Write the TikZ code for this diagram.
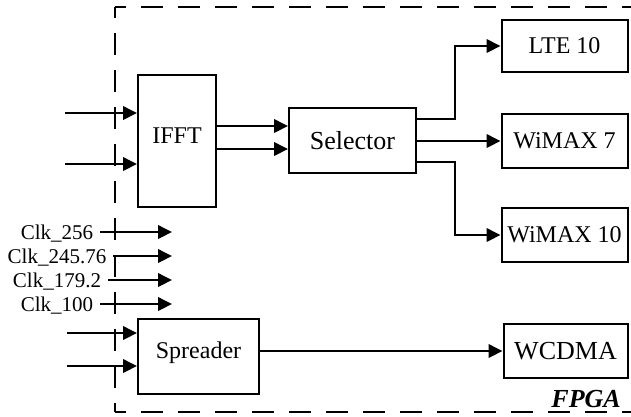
\documentclass[tikz,border=0pt]{standalone}
\usepackage{fontspec}
\setmainfont{Liberation Serif}
\usetikzlibrary{arrows.meta}

\begin{document}
\begin{tikzpicture}[x=1pt,y=-1pt,
  blk/.style={draw,line width=2pt,inner sep=0pt,font=\fontsize{24}{28}\selectfont},
  big/.style={font=\fontsize{26}{30}\selectfont},
  sig/.style={line width=2pt,-{Triangle[length=14pt,width=13.5pt]}},
  clk/.style={inner xsep=7pt,inner ysep=0pt,text height=14pt,text depth=0pt,
              font=\fontsize{21}{24}\selectfont},
  frame/.style={line width=2pt,dash pattern=on 22pt off 15pt,dash phase=11pt}]
\useasboundingbox (0,0) rectangle (631,416);

% FPGA boundary (open to the right)
\coordinate (ftl) at (115,7);
\coordinate (fbl) at (115,412);
\coordinate (ftr) at (631,7);
\coordinate (fbr) at (631,412);
\draw[frame] (ftl) -- (ftr);
\draw[frame] (ftl) -- (fbl);
\draw[frame] (fbl) -- (fbr);

% processing blocks
\node[blk,minimum width=78pt,minimum height=132pt,text depth=10pt] (ifft) at (177,141) {IFFT};
\node[blk,big,minimum width=127pt,minimum height=65pt] (sel) at (352.5,140.5) {Selector};
\node[blk,minimum width=126pt,minimum height=52pt] (lte) at (564.5,46) {LTE 10};
\node[blk,minimum width=126pt,minimum height=54pt] (wm7) at (564.5,141) {WiMAX 7};
\node[blk,minimum width=126pt,minimum height=54pt] (wm10) at (564.5,235) {WiMAX 10};
\node[blk,minimum width=121pt,minimum height=75pt,text depth=12pt] (spr) at (198.5,356.5) {Spreader};
\node[blk,big,minimum width=124pt,minimum height=54pt] (wcdma) at (565.5,351) {WCDMA};

\node[font=\fontsize{26}{30}\selectfont\bfseries\itshape,inner sep=0pt,anchor=base east]
  (fpga) at (621,407) {FPGA};

% external inputs
\coordinate (in1) at (65,113);
\coordinate (in2) at (65,164);
\coordinate (in3) at (67,333);
\coordinate (in4) at (67,366);
\draw[sig] (in1) -- (in1 -| ifft.west);
\draw[sig] (in2) -- (in2 -| ifft.west);
\draw[sig] (in3) -- (in3 -| spr.west);
\draw[sig] (in4) -- (in4 -| spr.west);

% IFFT to selector
\draw[sig] (ifft.east |- 0,126) -- (sel.west |- 0,126);
\draw[sig] (ifft.east |- 0,149) -- (sel.west |- 0,149);

% selector outputs
\draw[sig] (sel.east |- 0,119) -| ([xshift=-46pt]lte.west) -- (lte.west);
\draw[sig] (sel.east |- wm7.west) -- (wm7.west);
\draw[sig] (sel.east |- 0,162) -| ([xshift=-46pt]wm10.west) -- (wm10.west);

% spreader output
\draw[sig] (spr.east |- wcdma.west) -- (wcdma.west);

% clock inputs
\node[clk] (c256) at (57,232) {Clk\_256};
\node[clk] (c245) at (57,256) {Clk\_245.76};
\node[clk] (c179) at (57,280) {Clk\_179.2};
\node[clk] (c100) at (57,304) {Clk\_100};
\coordinate (t256) at (172,232);
\coordinate (t245) at (172,256);
\coordinate (t179) at (172,280);
\coordinate (t100) at (172,304);
\draw[sig] (c256.east) -- (t256);
\draw[sig] (c245.east) -- (t245);
\draw[sig] (c179.east) -- (t179);
\draw[sig] (c100.east) -- (t100);
\end{tikzpicture}
\end{document}
